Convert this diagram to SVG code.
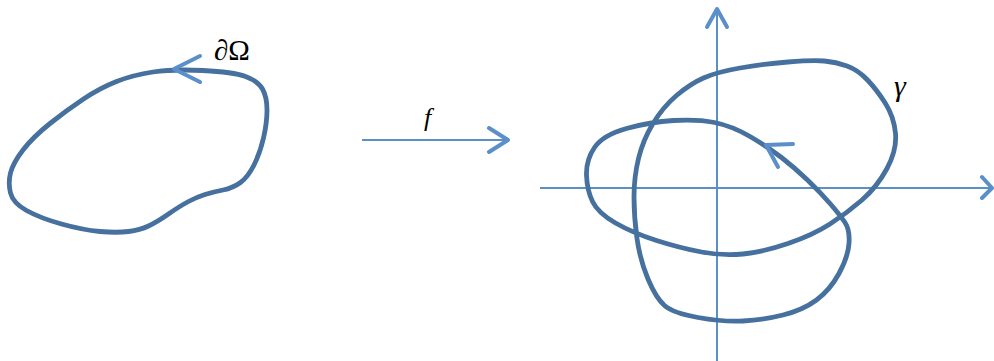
<svg xmlns="http://www.w3.org/2000/svg" width="994" height="361" viewBox="0 0 994 361">
<style>
.curve{fill:none;stroke:#46719F;stroke-width:4.8;stroke-linejoin:round}
.axis{fill:none;stroke:#5B8FC9;stroke-width:2}
.head{fill:none;stroke:#5B8FC9;stroke-width:4;stroke-linecap:round;stroke-linejoin:round}
.lbl{font-family:"Liberation Serif","DejaVu Serif",serif;font-style:italic;fill:#000}
.up{font-style:normal}
</style>
<rect width="994" height="361" fill="#fff"/>
<g id="domain">
<path class="curve" d="M153,72 Q173,69 203,70.5 Q233,72 245.5,76.5 Q258,81 262.5,89 Q267,97 267,110 Q267,123 263.5,138 Q260,153 254,165 Q248,177 240.5,182.5 Q233,188 223,190 Q213,192 205,194.5 Q197,197 188.5,201.5 Q180,206 168.5,214 Q157,222 148.5,226 Q140,230 128.5,231.5 Q117,233 100,231.5 Q83,230 61.5,224 Q40,218 26.5,210.5 Q13,203 10.5,193 Q8,183 10.5,173 Q13,163 23,150 Q33,137 50,123.5 Q67,110 83.5,99 Q100,88 116.5,81.5 Q133,75 153,72 Z"/>
<polyline class="head" points="200,56 174,69 200,82"/>
<text class="lbl up" x="214" y="60" font-size="29">∂Ω</text>
</g>
<g id="map">
<line class="axis" x1="362" y1="140" x2="508" y2="140"/>
<polyline class="head" points="489,128 508,140 489,152"/>
<text class="lbl" x="424" y="126" font-size="26">f</text>
</g>
<g id="axes">
<line class="axis" x1="717" y1="361" x2="717" y2="9"/>
<polyline class="head" points="707,27 717,9 727,27"/>
<line class="axis" x1="540" y1="188" x2="992" y2="188"/>
<polyline class="head" points="982,177 992,188 982,198"/>
</g>
<g id="gamma">
<path class="curve" d="M781.5,157.5 Q768,147 750,136.5 Q732,126 714.5,122.5 Q697,119 673.5,120.5 Q650,122 626.5,128.5 Q603,135 594.5,147.5 Q586,160 586.5,175 Q587,190 592.5,201.5 Q598,213 615.5,223 Q633,233 656.5,240.5 Q680,248 701.5,252 Q723,256 743,254 Q763,252 788,243.5 Q813,235 830,224 Q847,213 862,200 Q877,187 887,168.5 Q897,150 895.5,133.5 Q894,117 885.5,103.5 Q877,90 867.5,80 Q858,70 847,66 Q836,62 824.5,61 Q813,60 788,62 Q763,64 740,68 Q717,72 703.5,78 Q690,84 676.5,95.5 Q663,107 653,123.5 Q643,140 638.5,158.5 Q634,177 634,197 Q634,217 637,238.5 Q640,260 648,279 Q656,298 664.5,305.5 Q673,313 698,317.5 Q723,322 743,321 Q763,320 783,315 Q803,310 816.5,300 Q830,290 839,273.5 Q848,257 849,243.5 Q850,230 845,222.5 Q840,215 830,203.5 Q820,192 807.5,180 Q795,168 781.5,157.5 Z"/>
<polyline class="head" points="793,144 766,145 778,167"/>
<text class="lbl" x="894" y="96" font-size="30">γ</text>
</g>
</svg>
